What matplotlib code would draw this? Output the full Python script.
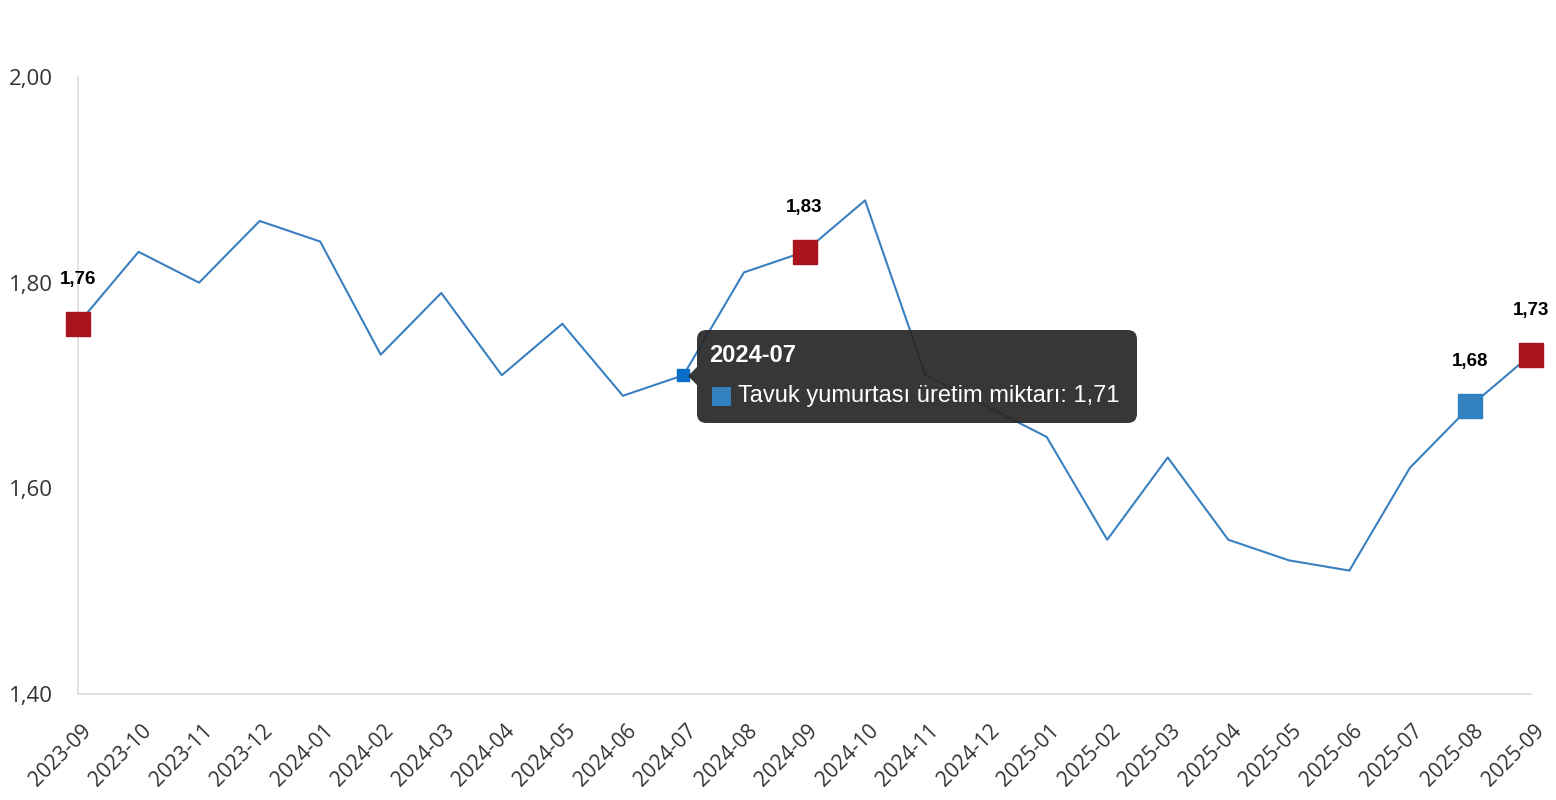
import matplotlib
matplotlib.use("Agg")
import matplotlib.pyplot as plt
from matplotlib.patches import FancyBboxPatch, Polygon, Rectangle
from matplotlib.transforms import ScaledTranslation

months = ["2023-09", "2023-10", "2023-11", "2023-12", "2024-01", "2024-02", "2024-03",
          "2024-04", "2024-05", "2024-06", "2024-07", "2024-08", "2024-09", "2024-10",
          "2024-11", "2024-12", "2025-01", "2025-02", "2025-03", "2025-04", "2025-05",
          "2025-06", "2025-07", "2025-08", "2025-09"]
values = [1.76, 1.83, 1.80, 1.86, 1.84, 1.73, 1.79, 1.71, 1.76, 1.69, 1.71, 1.81, 1.83,
          1.88, 1.71, 1.68, 1.65, 1.55, 1.63, 1.55, 1.53, 1.52, 1.62, 1.68, 1.73]
y_ticks = [1.40, 1.60, 1.80, 2.00]
red_idx = [0, 12, 24]
blue_idx = [23]
hover_idx = 10
series_name = "Tavuk yumurtası üretim miktarı"

def fmt(v):
    return f"{v:.2f}".replace(".", ",")

fig = plt.figure(figsize=(15.56, 8), dpi=100)
ax = fig.add_axes([78/1556, 1-694/800, (1531-78)/1556, (694-77)/800])
x = list(range(len(months)))
ax.plot(x, values, color="#3A80C0", lw=1.5, zorder=2, clip_on=False)

for i in red_idx:
    ax.plot(x[i], values[i], marker="s", ms=17, color="#A8141B", mec="#A8141B", zorder=4, clip_on=False)
for i in blue_idx:
    ax.plot(x[i], values[i], marker="s", ms=17, color="#3380BE", mec="#3380BE", zorder=4, clip_on=False)
ax.plot(x[hover_idx], values[hover_idx], marker="s", ms=8, color="#0A6EC8", mec="#0A6EC8", zorder=4)

for i in red_idx + blue_idx:
    ax.annotate(fmt(values[i]), (x[i], values[i]), xytext=(0, 32), textcoords="offset points",
                ha="center", va="center", fontsize=13.5, fontweight="bold",
                family="Liberation Sans", color="#000000", zorder=5)

ax.set_xlim(0, len(months) - 1)
ax.set_ylim(1.40, 2.00)
ax.set_yticks(y_ticks)
ax.set_yticklabels([fmt(v) for v in y_ticks], family="Open Sans", fontsize=16, color="#333333")
ax.set_xticks(x)
ax.set_xticklabels([])
lbl_tr = ax.get_xaxis_transform() + ScaledTranslation(10/100, -34/100, fig.dpi_scale_trans)
for xi, m in zip(x, months):
    ax.text(xi, 0, m, transform=lbl_tr, rotation=45, ha="right", va="center",
            rotation_mode="anchor", family="Open Sans", fontsize=15, color="#333333",
            clip_on=False)
ax.tick_params(axis="y", length=0, pad=18)
ax.tick_params(axis="x", length=0)
for s in ["top", "right"]:
    ax.spines[s].set_visible(False)
for s in ["left", "bottom"]:
    ax.spines[s].set_color("#DDDDDD")
    ax.spines[s].set_linewidth(1.2)
ax.spines["bottom"].set_bounds(0, len(months) - 1)

# tooltip (figure pixel coordinates)
def fx(px): return px / 1556
def fy(py): return 1 - py / 800
tip_color = "#262626"
box = FancyBboxPatch((fx(697), fy(423)), fx(1137) - fx(697), fy(330) - fy(423),
                     boxstyle="round,pad=0,rounding_size=0.006", transform=fig.transFigure,
                     facecolor=tip_color, edgecolor="none", alpha=0.92, zorder=10,
                     mutation_aspect=1556/800)
fig.patches.append(box)
tri = Polygon([(fx(697), fy(367)), (fx(688), fy(376)), (fx(697), fy(385))], closed=True,
              transform=fig.transFigure, facecolor=tip_color, edgecolor="none", alpha=0.92, zorder=10)
fig.patches.append(tri)
fig.text(fx(709), fy(355), months[hover_idx], ha="left", va="center", fontsize=17,
         fontweight="bold", family="Liberation Sans", color="white", zorder=11)
sq = Rectangle((fx(712), fy(406)), fx(731) - fx(712), fy(387) - fy(406),
               transform=fig.transFigure, facecolor="#3380BE", edgecolor="none", zorder=11)
fig.patches.append(sq)
fig.text(fx(738), fy(396), f"{series_name}: {fmt(values[hover_idx])}", ha="left", va="center",
         fontsize=17, family="Liberation Sans", color="white", zorder=11)

fig.savefig("out.png", dpi=100, facecolor="white")
